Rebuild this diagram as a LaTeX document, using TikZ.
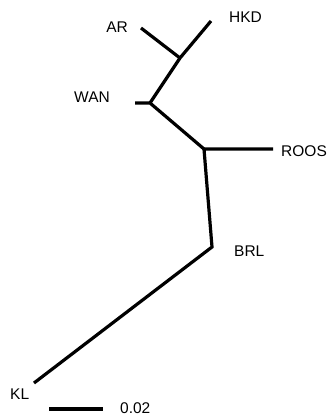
\documentclass[tikz,border=0pt]{standalone}
\usepackage{fontspec}
\setmainfont{Liberation Sans}
\usepackage{tikz}
\begin{document}
\begin{tikzpicture}[x=1pt,y=-1pt]
    \useasboundingbox (0,0) rectangle (328,416);

    \tikzset{branch/.style={line width=3.2pt,line cap=butt,line join=miter}}
    \tikzset{taxon/.style={inner sep=0pt,font=\fontsize{15.5}{18}\selectfont}}

    % tree points
    \coordinate (ar) at (141,28);
    \coordinate (hkd) at (211,21);
    \coordinate (jah) at (180,58);
    \coordinate (jwan) at (150,103);
    \coordinate (wan) at (135,103);
    \coordinate (jroos) at (204,149);
    \coordinate (roos) at (273,149);
    \coordinate (jbrl) at (212,247);
    \coordinate (kl) at (34,383);

    % labels
    \node[taxon,anchor=east] (lar) at (128,27.5) {AR};
    \node[taxon,anchor=west] (lhkd) at (229,17.5) {HKD};
    \node[taxon,anchor=east] (lwan) at (110,97.5) {WAN};
    \node[taxon,anchor=west] (lroos) at (281,151) {ROOS};
    \node[taxon,anchor=west] (lbrl) at (234,251) {BRL};
    \node[taxon,anchor=west] (lkl) at (10,394) {KL};

    % branches
    \draw[branch] (ar) -- (jah);
    \draw[branch] (hkd) -- (jah) -- (jwan);
    \draw[branch] (wan) -- (jwan) -- (jroos);
    \draw[branch] (roos) -- (jroos) -- (jbrl) -- (kl);

    % scale bar
    \coordinate (sb1) at (49,409);
    \coordinate (sb2) at (103,409);
    \draw[branch] (sb1) -- (sb2);
    \node[taxon,anchor=west] (lsb) at (120,408) {0.02};
\end{tikzpicture}
\end{document}
